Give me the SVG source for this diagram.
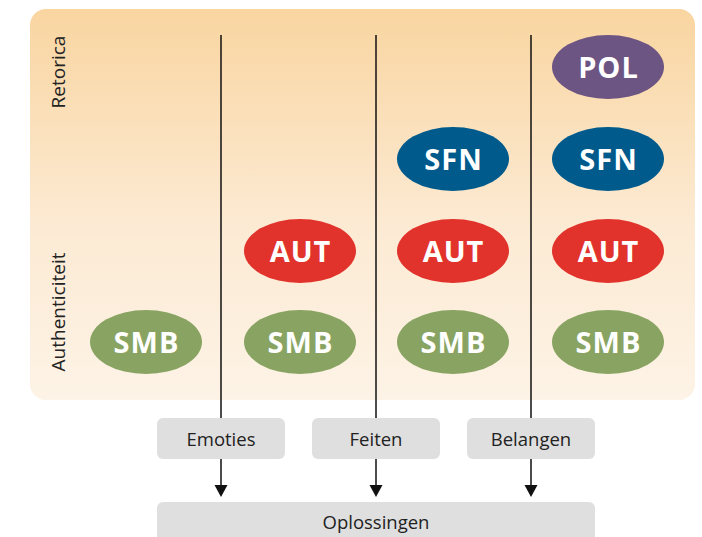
<svg xmlns="http://www.w3.org/2000/svg" width="702" height="537" viewBox="0 0 702 537">
<defs>
<linearGradient id="bg" x1="0" y1="0" x2="0" y2="1">
<stop offset="0" stop-color="#f9d5a0"/>
<stop offset="0.55" stop-color="#fcead3"/>
<stop offset="1" stop-color="#fdf3e6"/>
</linearGradient>
<style>
.lbl{font-family:"Open Sans","Liberation Sans",sans-serif;font-size:18.5px;fill:#222;text-anchor:middle}
.axis{font-family:"Open Sans","Liberation Sans",sans-serif;font-size:19px;fill:#222;text-anchor:middle}
.ov{font-family:"Open Sans","Liberation Sans",sans-serif;font-size:29px;font-weight:bold;fill:#fff;text-anchor:middle;letter-spacing:1px}
.box{fill:#dfdfdf}
.pol{fill:#6c5483}.sfn{fill:#005b8c}.aut{fill:#e1332c}.smb{fill:#89a462}
.ln{stroke:#111;stroke-width:1.5;fill:none}
.ah{fill:#111}
</style>
</defs>
<rect id="panel" x="30" y="9" width="665" height="391" rx="16" fill="url(#bg)"/>
<text class="axis" transform="translate(65,72) rotate(-90)">Retorica</text>
<text class="axis" transform="translate(65,312) rotate(-90)">Authenticiteit</text>
<g id="connectors">
<line class="ln" x1="221" y1="35" x2="221" y2="418"/>
<line class="ln" x1="376" y1="35" x2="376" y2="418"/>
<line class="ln" x1="531" y1="35" x2="531" y2="418"/>
<path class="ln" d="M221,459 V485"/>
<path class="ln" d="M376,459 V485"/>
<path class="ln" d="M531,459 V485"/>
<path class="ah" d="M214.5,485 H227.5 L221,497 Z"/>
<path class="ah" d="M369.5,485 H382.5 L376,497 Z"/>
<path class="ah" d="M524.5,485 H537.5 L531,497 Z"/>
</g>
<g id="pol4"><ellipse class="pol" cx="608" cy="67" rx="56" ry="32"/><text class="ov" x="608.5" y="77.5">POL</text></g>
<g id="sfn3"><ellipse class="sfn" cx="453" cy="159" rx="56" ry="32"/><text class="ov" x="453.5" y="169.5">SFN</text></g>
<g id="sfn4"><ellipse class="sfn" cx="608" cy="159" rx="56" ry="32"/><text class="ov" x="608.5" y="169.5">SFN</text></g>
<g id="aut2"><ellipse class="aut" cx="300" cy="251" rx="56" ry="32"/><text class="ov" x="300.5" y="261.5">AUT</text></g>
<g id="aut3"><ellipse class="aut" cx="453" cy="251" rx="56" ry="32"/><text class="ov" x="453.5" y="261.5">AUT</text></g>
<g id="aut4"><ellipse class="aut" cx="608" cy="251" rx="56" ry="32"/><text class="ov" x="608.5" y="261.5">AUT</text></g>
<g id="smb1"><ellipse class="smb" cx="146" cy="342" rx="56" ry="32"/><text class="ov" x="146.5" y="352.5">SMB</text></g>
<g id="smb2"><ellipse class="smb" cx="300" cy="342" rx="56" ry="32"/><text class="ov" x="300.5" y="352.5">SMB</text></g>
<g id="smb3"><ellipse class="smb" cx="453" cy="342" rx="56" ry="32"/><text class="ov" x="453.5" y="352.5">SMB</text></g>
<g id="smb4"><ellipse class="smb" cx="608" cy="342" rx="56" ry="32"/><text class="ov" x="608.5" y="352.5">SMB</text></g>
<g id="emoties"><rect class="box" x="157" y="418" width="128" height="41" rx="6"/><text class="lbl" x="221" y="446">Emoties</text></g>
<g id="feiten"><rect class="box" x="312" y="418" width="128" height="41" rx="6"/><text class="lbl" x="376" y="446">Feiten</text></g>
<g id="belangen"><rect class="box" x="467" y="418" width="128" height="41" rx="6"/><text class="lbl" x="531" y="446">Belangen</text></g>
<g id="oplossingen"><rect class="box" x="157" y="502" width="438" height="50" rx="6"/><text class="lbl" x="376" y="529">Oplossingen</text></g>
</svg>
